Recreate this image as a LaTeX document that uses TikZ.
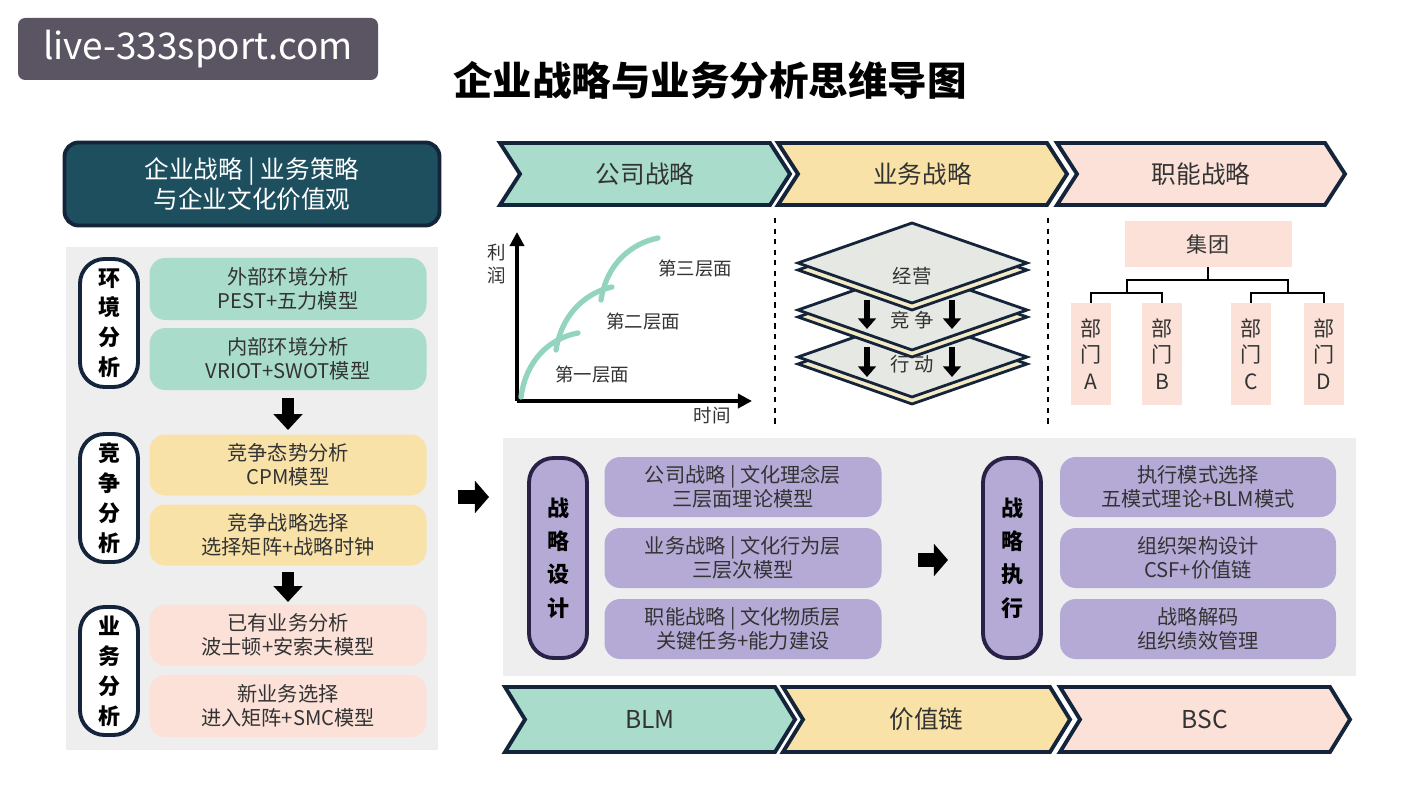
\documentclass[tikz,border=0pt]{standalone}
\usepackage{fontspec}
\setmainfont{Noto Sans CJK SC}
\setsansfont{Noto Sans CJK SC}
\usetikzlibrary{arrows.meta}
\definecolor{tealbg}{HTML}{A9DCCB}
\definecolor{yelbg}{HTML}{F8E2A8}
\definecolor{pinkbg}{HTML}{FBE1D8}
\definecolor{purbg}{HTML}{B4AAD5}
\definecolor{navy}{HTML}{14243A}
\definecolor{deep}{HTML}{1D4F5F}
\definecolor{panel}{HTML}{EEEEEE}
\definecolor{ink}{HTML}{333333}
\definecolor{curve}{HTML}{92D4BF}
\definecolor{layer}{HTML}{E6E8E4}
\definecolor{stripe}{HTML}{F4EBC6}
\definecolor{darkpur}{HTML}{2A2146}
\definecolor{markbg}{HTML}{5B5563}
% chevron: x1 x2 y1 y2 colour name text
\newcommand{\mychev}[7]{%
  \draw[navy,line width=2.2pt,fill=#5,line join=miter]
    (#1,#3) -- (#2-20,#3) -- (#2,{(#3+#4)/2}) -- (#2-20,#4) -- (#1,#4) -- (#1+20,{(#3+#4)/2}) -- cycle;
  \node[txt,font=\fontsize{14}{16}\selectfont] (#6) at ({(#1+#2)/2},{(#3+#4)/2}) {#7};}
\begin{document}
\begin{tikzpicture}[x=0.02cm,y=-0.02cm,
  txt/.style={text=ink,align=center,font=\fontsize{11.5}{13.5}\selectfont},
  item/.style={txt,rounded corners=9pt,minimum height=#1*0.02cm,inner sep=0pt},
  pill/.style={draw=navy,line width=2.2pt,fill=white,rounded corners=14pt,minimum width=58*0.02cm,
    minimum height=128*0.02cm,align=center,font=\bfseries\fontsize{12.5}{17}\selectfont,text=black},
  ppill/.style={pill,draw=darkpur,fill=purbg,minimum height=200*0.02cm,font=\bfseries\fontsize{12.5}{19}\selectfont},
  bigarrow/.style={line width=7pt,-{Triangle[length=9pt,width=16pt]}},
  dept/.style={txt,fill=pinkbg,minimum width=40*0.02cm,minimum height=102*0.02cm,font=\fontsize{12}{15}\selectfont}]
\fill[white] (0,0) rectangle (1422,800);
% watermark and title
\node[fill=markbg,rounded corners=4pt,minimum width=360*0.02cm,minimum height=62*0.02cm,
  text=white,font=\fontsize{21}{24}\selectfont] (mark) at (198,49) {live-333sport.com};
\node[font=\bfseries\fontsize{22.5}{26}\selectfont] (title) at (710,80) {企业战略与业务分析思维导图};
% left column
\node[draw=navy,line width=2.2pt,fill=deep,rounded corners=8pt,minimum width=375*0.02cm,minimum height=83*0.02cm,
  text=white,align=center,font=\fontsize{14}{17}\selectfont] (head) at (252,184) {企业战略 | 业务策略\\与企业文化价值观};
\fill[panel] (66,247) rectangle (438,750);
\node[pill] (env) at (109,323) {环\\境\\分\\析};
\node[pill] (comp) at (109,498) {竞\\争\\分\\析};
\node[pill] (biz) at (109,671) {业\\务\\分\\析};
\node[item=62,fill=tealbg,minimum width=277*0.02cm] (e1) at (288,289) {外部环境分析\\PEST+五力模型};
\node[item=62,fill=tealbg,minimum width=277*0.02cm] (e2) at (288,359) {内部环境分析\\VRIOT+SWOT模型};
\node[item=61,fill=yelbg,minimum width=277*0.02cm] (c1) at (288,465) {竞争态势分析\\CPM模型};
\node[item=61,fill=yelbg,minimum width=277*0.02cm] (c2) at (288,535) {竞争战略选择\\选择矩阵+战略时钟};
\node[item=61,fill=pinkbg,minimum width=277*0.02cm] (b1) at (288,635) {已有业务分析\\波士顿+安索夫模型};
\node[item=62,fill=pinkbg,minimum width=277*0.02cm] (b2) at (288,706) {新业务选择\\进入矩阵+SMC模型};
\draw[bigarrow] (e2.south) ++(0,8) -- (288,430);
\draw[bigarrow] (c2.south) ++(0,6) -- (288,602);
% top chevrons
\mychev{500}{790}{143}{205}{tealbg}{s1}{公司战略}
\mychev{778}{1067}{143}{205}{yelbg}{s2}{业务战略}
\mychev{1057}{1345}{143}{205}{pinkbg}{s3}{职能战略}
\draw[dashed,line width=0.8pt] (775,218) -- (775,425);
\draw[dashed,line width=0.8pt] (1048,218) -- (1048,425);
% profit chart
\coordinate (o) at (517,401);
\draw[line width=2.5pt,-{Triangle[length=8pt,width=8pt]}] (o) -- (517,232);
\draw[line width=2.5pt,-{Triangle[length=8pt,width=8pt]}] (o) -- (752,401);
\node[txt,font=\fontsize{10.5}{13}\selectfont] (yl) at (497,264) {利\\润};
\node[txt,font=\fontsize{10.5}{12}\selectfont] (xl) at (712,416) {时间};
\draw[curve,line width=3pt,line cap=round] (521,397) .. controls (526,360) and (550,338) .. (578,333);
\draw[curve,line width=3pt,line cap=round] (556,350) .. controls (562,312) and (588,292) .. (612,287);
\draw[curve,line width=3pt,line cap=round] (601,300) .. controls (607,262) and (633,243) .. (658,238);
\node[txt,font=\fontsize{10.5}{12}\selectfont] (lv1) at (592,375) {第一层面};
\node[txt,font=\fontsize{10.5}{12}\selectfont] (lv2) at (643,322) {第二层面};
\node[txt,font=\fontsize{10.5}{12}\selectfont] (lv3) at (695,269) {第三层面};
% layer stack
\foreach \dy/\name in {94/act,47/cmp,0/ops}{
  \draw[navy,line width=1.6pt,fill=stripe] (798,270+\dy) -- (912,230+\dy) -- (1027,270+\dy) -- (912,310+\dy) -- cycle;
  \draw[navy,line width=1.6pt,fill=layer] (798,263+\dy) -- (912,223+\dy) -- (1027,263+\dy) -- (912,303+\dy) -- cycle;
  \coordinate (\name) at (912,263+\dy);}
\node[txt,font=\fontsize{11}{13}\selectfont] (t1) at ([yshift=-0.26cm]ops) {经营};
\node[txt,font=\fontsize{11}{13}\selectfont] (t2) at ([yshift=-0.2cm]cmp) {竞 争};
\node[txt,font=\fontsize{11}{13}\selectfont] (t3) at ([yshift=-0.14cm]act) {行 动};
\foreach \x in {867,952}{
  \draw[line width=3.5pt,-{Triangle[length=6pt,width=10pt]}] (\x,300) -- (\x,329);
  \draw[line width=3.5pt,-{Triangle[length=6pt,width=10pt]}] (\x,347) -- (\x,377);}
% org chart
\node[txt,fill=pinkbg,minimum width=167*0.02cm,minimum height=46*0.02cm,font=\fontsize{12}{14}\selectfont] (grp) at (1208,244) {集团};
\node[dept] (dA) at (1091,354) {部\\门\\A};
\node[dept] (dB) at (1162,354) {部\\门\\B};
\node[dept] (dC) at (1251,354) {部\\门\\C};
\node[dept] (dD) at (1324,354) {部\\门\\D};
\draw[line width=1.2pt] (grp.south) -- (1208,280) -| (1127,293) (1208,280) -| (1288,293);
\draw[line width=1.2pt] (dA.north) |- (1127,293) -| (dB.north);
\draw[line width=1.2pt] (dC.north) |- (1288,293) -| (dD.north);
% middle panel
\fill[panel] (503,438) rectangle (1356,676);
\draw[line width=8pt,-{Triangle[length=8pt,width=18pt]}] (458,497) -- (489,497);
\node[ppill] (des) at (558,558) {战\\略\\设\\计};
\node[ppill] (exe) at (1012,558) {战\\略\\执\\行};
\node[item=60,fill=purbg,minimum width=277*0.02cm] (d1) at (743,487) {公司战略 | 文化理念层\\三层面理论模型};
\node[item=60,fill=purbg,minimum width=277*0.02cm] (d2) at (743,558) {业务战略 | 文化行为层\\三层次模型};
\node[item=60,fill=purbg,minimum width=277*0.02cm] (d3) at (743,629) {职能战略 | 文化物质层\\关键任务+能力建设};
\node[item=60,fill=purbg,minimum width=276*0.02cm] (x1) at (1198,487) {执行模式选择\\五模式理论+BLM模式};
\node[item=60,fill=purbg,minimum width=276*0.02cm] (x2) at (1198,558) {组织架构设计\\CSF+价值链};
\node[item=60,fill=purbg,minimum width=276*0.02cm] (x3) at (1198,629) {战略解码\\组织绩效管理};
\draw[line width=8pt,-{Triangle[length=8pt,width=18pt]}] (918,560) -- (948,560);
% bottom chevrons
\mychev{505}{795}{687}{752}{tealbg}{m1}{BLM}
\mychev{783}{1070}{687}{752}{yelbg}{m2}{价值链}
\mychev{1060}{1350}{687}{752}{pinkbg}{m3}{BSC}
\end{tikzpicture}
\end{document}
